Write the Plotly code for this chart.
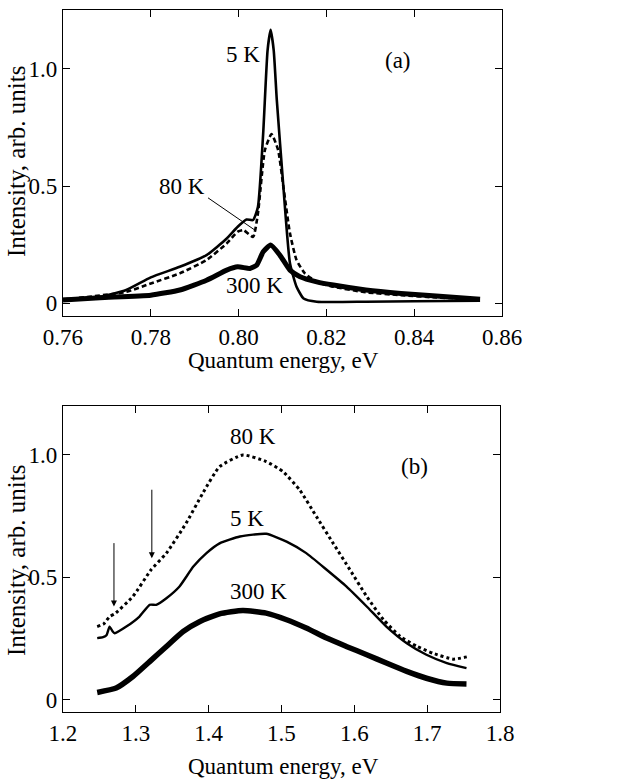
import plotly.graph_objects as go

# ---------------- Panel (a) data ----------------
a5_E = [0.760, 0.7684, 0.7744, 0.780, 0.7866, 0.7927, 0.7973, 0.7998, 0.8018, 0.8033,
        0.8044, 0.8056, 0.8066, 0.8073, 0.8080, 0.8087, 0.8102, 0.8117, 0.8132, 0.8148,
        0.8178, 0.829, 0.840, 0.855]
a5_I = [0.017, 0.027, 0.056, 0.110, 0.155, 0.205, 0.276, 0.326, 0.357, 0.355,
        0.410, 0.725, 1.080, 1.167, 1.080, 0.868, 0.497, 0.170, 0.070, 0.020,
        0.006, 0.006, 0.008, 0.010]

a80_E = [0.760, 0.7744, 0.780, 0.7866, 0.7927, 0.7973, 0.7998, 0.8011, 0.8033, 0.8044,
         0.8060, 0.8075, 0.8090, 0.8102, 0.8117, 0.8132, 0.8151, 0.8178, 0.8216, 0.829,
         0.837, 0.845, 0.855]
a80_I = [0.015, 0.048, 0.084, 0.127, 0.184, 0.255, 0.305, 0.312, 0.283, 0.383,
         0.654, 0.722, 0.654, 0.497, 0.298, 0.184, 0.127, 0.091, 0.070, 0.046,
         0.034, 0.024, 0.017]

a300_E = [0.760, 0.7684, 0.780, 0.7866, 0.7927, 0.7973, 0.7998, 0.8026, 0.8041, 0.8056,
          0.8073, 0.8094, 0.8117, 0.814, 0.8178, 0.8216, 0.829, 0.837, 0.845, 0.855]
a300_I = [0.013, 0.023, 0.034, 0.056, 0.098, 0.141, 0.155, 0.148, 0.162, 0.219,
          0.248, 0.205, 0.141, 0.113, 0.091, 0.077, 0.056, 0.041, 0.030, 0.017]

# ---------------- Panel (b) data ----------------
b80_E = [1.247, 1.256, 1.264, 1.271, 1.296, 1.321, 1.342, 1.369, 1.392, 1.415,
         1.447, 1.479, 1.502, 1.525, 1.548, 1.571, 1.594, 1.617, 1.640, 1.663,
         1.686, 1.708, 1.736, 1.757]
b80_I = [0.299, 0.310, 0.340, 0.351, 0.422, 0.531, 0.599, 0.721, 0.844, 0.952,
         1.000, 0.973, 0.932, 0.857, 0.748, 0.639, 0.531, 0.422, 0.327, 0.259,
         0.218, 0.190, 0.166, 0.177]

b5_E = [1.247, 1.255, 1.260, 1.264, 1.268, 1.271, 1.287, 1.305, 1.319, 1.328,
        1.342, 1.360, 1.379, 1.397, 1.415, 1.443, 1.479, 1.507, 1.534, 1.562,
        1.589, 1.617, 1.644, 1.672, 1.699, 1.727, 1.754]
b5_I = [0.252, 0.256, 0.265, 0.299, 0.280, 0.272, 0.299, 0.340, 0.388, 0.388,
        0.415, 0.463, 0.544, 0.599, 0.639, 0.667, 0.678, 0.646, 0.599, 0.531,
        0.463, 0.381, 0.299, 0.231, 0.184, 0.150, 0.129]

b300_E = [1.247, 1.273, 1.296, 1.319, 1.342, 1.365, 1.388, 1.415, 1.447, 1.479,
          1.507, 1.534, 1.562, 1.589, 1.617, 1.644, 1.672, 1.699, 1.727, 1.754]
b300_I = [0.030, 0.048, 0.095, 0.156, 0.218, 0.279, 0.320, 0.351, 0.365, 0.354,
          0.327, 0.293, 0.252, 0.218, 0.184, 0.150, 0.116, 0.088, 0.068, 0.065]

# tick labels
a_xticks = [0.76, 0.78, 0.80, 0.82, 0.84, 0.86]
a_xlabels = ["0.76", "0.78", "0.80", "0.82", "0.84", "0.86"]
b_xticks = [1.2, 1.3, 1.4, 1.5, 1.6, 1.7, 1.8]
b_xlabels = ["1.2", "1.3", "1.4", "1.5", "1.6", "1.7", "1.8"]
y_ticks = [0, 0.5, 1.0]
y_labels = ["0", "0.5", "1.0"]
x_title = "Quantum energy, eV"
y_title = "Intensity, arb. units"

FONT = "Liberation Serif, Times New Roman, serif"
FS = 23
FSY = 25

fig = go.Figure()
sp = dict(shape="spline", smoothing=0.5)
fig.add_trace(go.Scatter(x=a5_E, y=a5_I, mode="lines", line=dict(color="black", width=2.6, **sp), xaxis="x", yaxis="y"))
fig.add_trace(go.Scatter(x=a80_E, y=a80_I, mode="lines", line=dict(color="black", width=2.6, dash="5px,3px", **sp), xaxis="x", yaxis="y"))
fig.add_trace(go.Scatter(x=a300_E, y=a300_I, mode="lines", line=dict(color="black", width=5, **sp), xaxis="x", yaxis="y"))

fig.add_trace(go.Scatter(x=b80_E, y=b80_I, mode="lines", line=dict(color="black", width=3, dash="3px,3px", **sp), xaxis="x2", yaxis="y2"))
fig.add_trace(go.Scatter(x=b5_E, y=b5_I, mode="lines", line=dict(color="black", width=2.4, **sp), xaxis="x2", yaxis="y2"))
fig.add_trace(go.Scatter(x=b300_E, y=b300_I, mode="lines", line=dict(color="black", width=5.5, **sp), xaxis="x2", yaxis="y2"))

axis_common = dict(showline=True, linecolor="black", linewidth=1, mirror="ticks",
                   ticks="inside", ticklen=7, tickwidth=1, tickcolor="black",
                   showgrid=False, zeroline=False, automargin=False,
                   tickfont=dict(family=FONT, size=FS, color="black"))

fig.update_layout(
    width=631, height=781,
    margin=dict(l=0, r=0, t=0, b=0),
    paper_bgcolor="white", plot_bgcolor="white",
    showlegend=False,
    font=dict(family=FONT, size=FS, color="black"),
    xaxis=dict(domain=[0.0998, 0.7956], range=[0.76, 0.86], tickvals=a_xticks, ticktext=a_xlabels,
               anchor="y", **axis_common),
    yaxis=dict(domain=[0.5954, 0.9872], range=[-0.055, 1.252], tickvals=y_ticks, ticktext=y_labels,
               anchor="x", **axis_common),
    xaxis2=dict(domain=[0.0998, 0.7924], range=[1.2, 1.8], tickvals=b_xticks, ticktext=b_xlabels,
                anchor="y2", **axis_common),
    yaxis2=dict(domain=[0.0883, 0.4802], range=[-0.05, 1.2], tickvals=y_ticks, ticktext=y_labels,
                anchor="x2", **axis_common),
)

# axis titles (paper coordinates)
for xp, yp in [(0.450, 0.539), (0.449, 0.018)]:
    fig.add_annotation(x=xp, y=yp, xref="paper", yref="paper", text=x_title, showarrow=False,
                       xanchor="center", yanchor="middle",
                       font=dict(family=FONT, size=FS, color="black"))
for xp, yp in [(0.027, 0.7926), (0.027, 0.2817)]:
    fig.add_annotation(x=xp, y=yp, xref="paper", yref="paper", text=y_title, showarrow=False,
                       textangle=-90, xanchor="center", yanchor="middle",
                       font=dict(family=FONT, size=FSY, color="black"))

# labels
a_lab_text = ["5 K", "(a)", "80 K", "300 K"]
a_lab_x = [0.8011, 0.8364, 0.787, 0.8037]
a_lab_y = [1.06, 1.038, 0.497, 0.077]
for t, x, y in zip(a_lab_text, a_lab_x, a_lab_y):
    fig.add_annotation(x=x, y=y, xref="x", yref="y", text=t, showarrow=False,
                       font=dict(family=FONT, size=FS, color="black"))

b_lab_text = ["80 K", "5 K", "300 K", "(b)"]
b_lab_x = [1.461, 1.452, 1.468, 1.683]
b_lab_y = [1.075, 0.741, 0.442, 0.952]
for t, x, y in zip(b_lab_text, b_lab_x, b_lab_y):
    fig.add_annotation(x=x, y=y, xref="x2", yref="y2", text=t, showarrow=False,
                       font=dict(family=FONT, size=FS, color="black"))

# pointer for 80 K in (a)
pointer_from = (0.7927, 0.454)
pointer_to = (0.8037, 0.312)
fig.add_annotation(x=pointer_to[0], y=pointer_to[1], ax=pointer_from[0], ay=pointer_from[1],
                   xref="x", yref="y", axref="x", ayref="y", text="", showarrow=True,
                   arrowhead=0, arrowwidth=1, arrowcolor="black")

# arrows in (b)
arrow_x = [1.270, 1.322]
arrow_tail = [0.646, 0.864]
arrow_head = [0.381, 0.578]
for x, yt, yh in zip(arrow_x, arrow_tail, arrow_head):
    fig.add_annotation(x=x, y=yh, ax=x, ay=yt, xref="x2", yref="y2", axref="x2", ayref="y2",
                       text="", showarrow=True, arrowhead=2, arrowsize=1.2, arrowwidth=1,
                       arrowcolor="black")

fig.write_html("out.html", config={"displayModeBar": False},
               post_script="document.body.style.margin='0';document.body.style.padding='0';")
